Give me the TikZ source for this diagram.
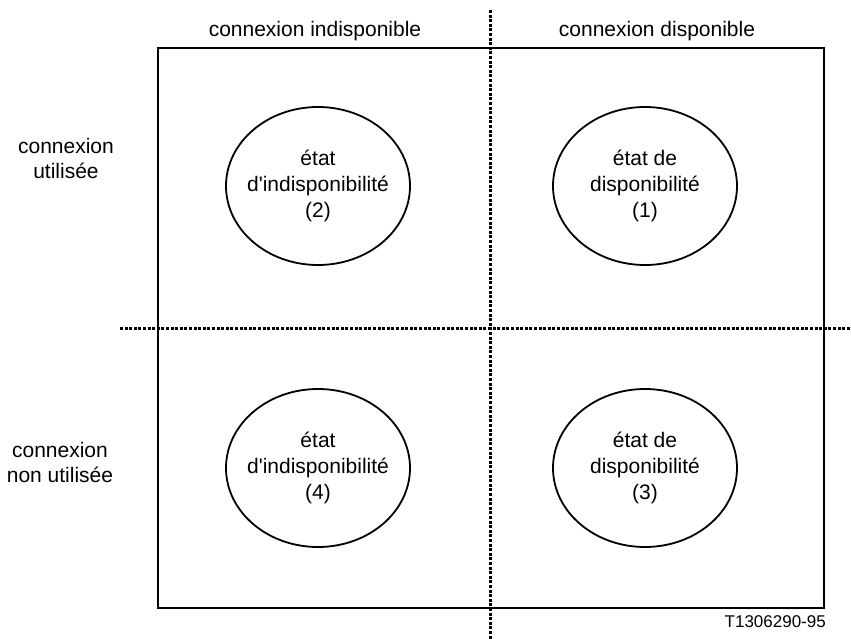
\documentclass[tikz,border=0pt]{standalone}
\usepackage{fontspec}
\setmainfont{Liberation Sans}
\usetikzlibrary{shapes.geometric}
\begin{document}
\begin{tikzpicture}[x=1pt,y=-1pt,
  lbl/.style={font=\fontsize{21}{25}\selectfont, align=center, inner sep=0pt},
  txt/.style={font=\fontsize{21}{26}\selectfont, align=center, inner sep=0pt},
  st/.style={ellipse, draw, line width=1.8pt, minimum width=184pt, minimum height=158pt, inner sep=0pt},
  sep/.style={line width=3pt, dash pattern=on 3pt off 1.6pt}]
\useasboundingbox (0,0) rectangle (851,639);
\node[draw, line width=1.8pt, minimum width=666pt, minimum height=560pt, inner sep=0pt] (box) at (491,328) {};
\coordinate (vt) at (490,10);
\coordinate (vb) at (490,639);
\coordinate (hl) at (120,328);
\coordinate (hr) at (851,328);
\draw[sep] (vt) -- (vb);
\draw[sep] (hl) -- (hr);
\node[lbl] (c1) at (315,31) {connexion indisponible};
\node[lbl] (c2) at (657,31) {connexion disponible};
\node[lbl] (r1) at (66,158) {connexion\\utilisée};
\node[lbl] (r2) at (60,462) {connexion\\non utilisée};
\node[st] (e2) at (318,186) {};
\node[st] (e1) at (645,186) {};
\node[st] (e4) at (318,468) {};
\node[st] (e3) at (645,468) {};
\node[txt] (t2) at (e2.center) {état\\d\textquotesingle indisponibilité\\(2)};
\node[txt] (t1) at (e1.center) {état de\\disponibilité\\(1)};
\node[txt] (t4) at (e4.center) {état\\d\textquotesingle indisponibilité\\(4)};
\node[txt] (t3) at (e3.center) {état de\\disponibilité\\(3)};
\node[font=\fontsize{17}{20}\selectfont, anchor=east, inner sep=0pt] (ref) at (826,622) {T1306290-95};
\end{tikzpicture}
\end{document}
